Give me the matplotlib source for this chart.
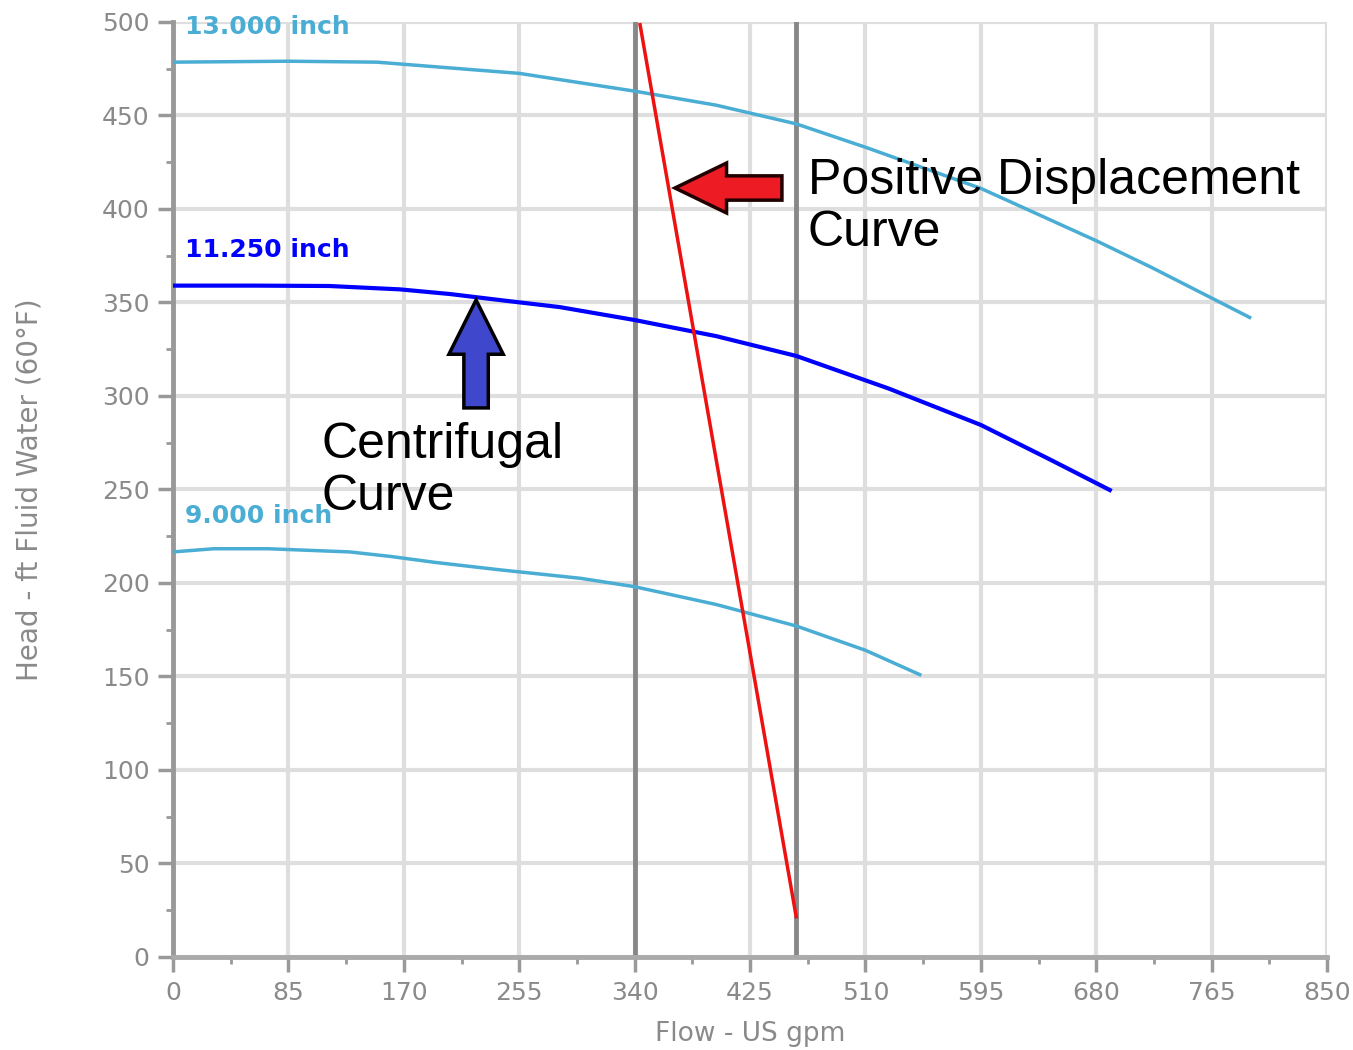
import numpy as np
import matplotlib
matplotlib.use("Agg")
import matplotlib.pyplot as plt

# impeller curves (flow in US gpm, head in ft)
flow_13 = [0, 85, 150, 255, 340, 400, 459, 510, 595, 680, 720, 793]
head_13 = [478.5, 479, 478.5, 472.5, 463, 455.5, 445.5, 433, 411, 383, 369, 342]

flow_11 = [0, 60, 115, 167, 204, 244, 285, 340, 400, 459, 527, 595, 646, 690]
head_11 = [359, 359, 358.8, 357, 354.5, 351, 347.5, 340.6, 332, 321.4, 304, 284.5, 266, 249.7]

flow_9 = [0, 30, 70, 130, 160, 193, 241, 300, 340, 400, 459, 510, 550]
head_9 = [216.6, 218.3, 218.3, 216.6, 214.2, 211, 207, 202.5, 198, 188.5, 177, 164, 151]

# positive displacement curve
pd_flow = [344, 459]
pd_head = [498.5, 21.5]

vlines = [340, 459]
curve_labels = ["13.000 inch", "11.250 inch", "9.000 inch"]
label_heads = [497.5, 378, 236]

xticks = np.arange(0, 851, 85)
yticks = np.arange(0, 501, 50)

light_blue = "#4aadd4"
blue = "#0000ff"

fig = plt.figure(figsize=(13.53, 10.5), dpi=100)
ax = fig.add_axes([0.1279, 0.0886, 0.8529, 0.8905])
ax.set_xlim(0, 850)
ax.set_ylim(0, 500)

ax.set_xticks(xticks)
ax.set_yticks(yticks)
ax.set_xticks(np.arange(42.5, 850, 85), minor=True)
ax.set_yticks(np.arange(25, 500, 50), minor=True)
ax.grid(True, which="major", color="#dedede", linewidth=3, zorder=0)
ax.set_axisbelow(True)

for s in ["top", "right"]:
    ax.spines[s].set_visible(False)
ax.spines["left"].set_color("#999999")
ax.spines["left"].set_linewidth(3.5)
ax.spines["bottom"].set_color("#aaaaaa")
ax.spines["bottom"].set_linewidth(3.5)

ax.tick_params(which="major", length=11, width=2.5, color="#999999",
               labelsize=18, labelcolor="#8a8a8a", pad=6)
ax.tick_params(which="minor", length=5, width=2, color="#999999")

for v in vlines:
    ax.axvline(v, color="#888888", linewidth=3.5, zorder=2)

ax.plot(flow_13, head_13, color=light_blue, linewidth=2.5, zorder=3)
ax.plot(flow_11, head_11, color=blue, linewidth=3, zorder=3)
ax.plot(flow_9, head_9, color=light_blue, linewidth=2.5, zorder=3)
ax.plot(pd_flow, pd_head, color="#ee1111", linewidth=2.5, zorder=4)

colors = [light_blue, blue, light_blue]
for lab, yh, c in zip(curve_labels, label_heads, colors):
    ax.text(9, yh, lab, color=c, fontsize=18, va="center", ha="left",
            fontweight="bold", zorder=5)

# arrows
ax.arrow(448.5, 411.2, -78.8, 0, width=13, head_width=26.7, head_length=38,
         length_includes_head=True, facecolor="#ed1c24", edgecolor="#200000",
         linewidth=2.5, zorder=6)
ax.arrow(223.2, 293.6, 0, 57.7, width=18, head_width=40, head_length=29,
         length_includes_head=True, facecolor="#3f48cc", edgecolor="black",
         linewidth=2.5, zorder=6)

ax.text(467.5, 427, "Positive Displacement\nCurve", fontsize=36,
        family="Liberation Sans", va="top", ha="left", linespacing=1.15,
        zorder=7)
ax.text(109.5, 286, "Centrifugal\nCurve", fontsize=36,
        family="Liberation Sans", va="top", ha="left", linespacing=1.15,
        zorder=7)

ax.set_xlabel("Flow - US gpm", fontsize=19, color="#8a8a8a", labelpad=12)
ax.set_ylabel("Head - ft Fluid Water (60°F)", fontsize=20, color="#8a8a8a",
              labelpad=42)

fig.savefig("out.png", dpi=100)
